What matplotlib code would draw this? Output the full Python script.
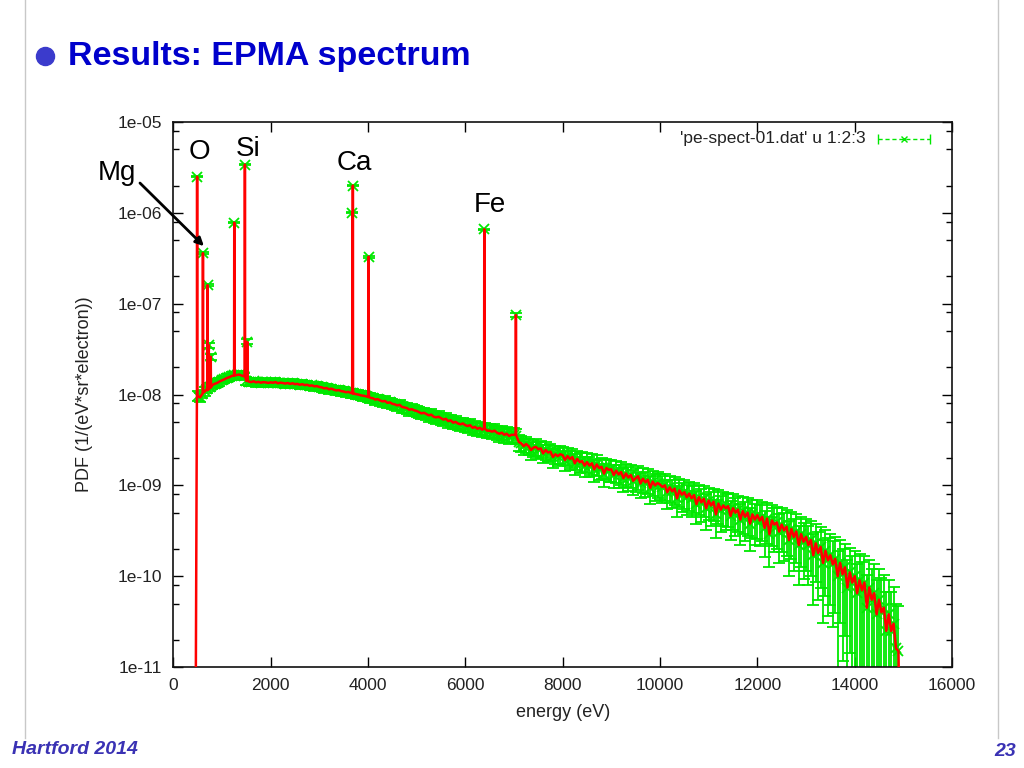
import numpy as np
import matplotlib
matplotlib.use("Agg")
import matplotlib.pyplot as plt
from matplotlib.lines import Line2D
from matplotlib.ticker import LogLocator, NullFormatter, MultipleLocator

plt.rcParams['font.family'] = ['Liberation Sans', 'DejaVu Sans']

# Continuum, units of 1e-10, 50 eV bins from 500 eV
e_start, e_step = 500, 50
continuum = [
    97, 93, 102, 108, 116, 121, 127, 131, 134, 139,
    143, 147, 152, 155, 160, 163, 164, 166, 162, 159,
    141, 139, 137, 140, 136, 138, 135, 137, 136, 134,
    136, 135, 137, 133, 135, 134, 132, 134, 131, 133,
    130, 131, 128, 130, 127, 128, 125, 126, 123, 124,
    121, 120, 117, 118, 114, 116, 113, 111, 112, 109,
    108, 106, 107, 104, 103, 101, 100, 98, 97, 96,
    94, 92, 91, 88, 89, 86, 84, 85, 81, 82,
    79, 78, 76, 77, 73, 72, 71, 68, 69, 67,
    66, 64, 62, 63, 61, 59, 60, 57, 56, 57,
    55, 53, 54, 51, 52, 49, 50, 48, 47, 48,
    46, 45, 46, 43, 44, 42, 43, 41, 42, 40,
    40, 39, 40, 38, 37, 38, 36, 37, 35, 36,
    36, 35, 30, 29, 27, 28.5, 27, 24.5, 26, 26.5,
    25, 25.5, 22.5, 24.5, 23, 23.5, 20.5, 22, 21, 22,
    21.5, 19, 21, 19.5, 20.5, 17.5, 19.5, 18, 18.5, 16.5,
    18, 16.5, 17.5, 15, 17, 15.5, 16, 13.5, 15.5, 14.8,
    15, 13, 14.5, 13.2, 14, 12, 13.5, 12.2, 13, 11.2,
    12, 12.6, 10.5, 11.8, 10.8, 11.5, 9.4, 11, 10, 10.6,
    10.2, 9.6, 10, 8.4, 9.5, 8.6, 9.2, 7.2, 8.8, 7.9,
    8.4, 7.4, 8.1, 7.2, 7.8, 6.2, 7.4, 6.5, 7.1, 5.6,
    6.8, 6.0, 6.6, 4.8, 6.3, 5.4, 6.0, 5.6, 5.9, 4.6,
    5.6, 5.0, 5.4, 4.2, 5.2, 4.5, 5.0, 3.8, 4.8, 4.2,
    4.7, 4.1, 4.5, 3.4, 4.3, 2.9, 4.1, 3.7, 3.9, 3.1,
    3.7, 3.2, 3.5, 2.5, 3.3, 2.7, 3.1, 2.2, 2.9, 2.4,
    2.7, 2.2, 2.5, 1.7, 2.3, 1.8, 2.1, 1.4, 1.9, 1.5,
    1.7, 1.35, 1.55, 1.0, 1.4, 1.05, 1.25, 0.75, 1.1, 0.85,
    1.0, 0.65, 0.9, 0.7, 0.85, 0.45, 0.75, 0.55, 0.65, 0.38,
    0.55, 0.4, 0.45, 0.25, 0.38, 0.25, 0.3, 0.16, 0.15,
]
continuum_scale = 1e-10

# Characteristic lines (single bins) and the continuum level at their foot
peak_energy = [490, 610, 705, 730, 770, 1253, 1472, 1520, 3680, 3690, 4015, 6390, 7040]
peak_value = [2.5e-6, 3.6e-7, 1.6e-7, 3.5e-8, 2.6e-8, 7.8e-7, 3.4e-6, 3.8e-8,
              1.0e-6, 2.0e-6, 3.3e-7, 6.6e-7, 7.5e-8]
peak_base = [1.0e-8, 1.05e-8, 1.12e-8, 1.15e-8, 1.2e-8, 1.62e-8, 1.58e-8, 1.42e-8,
             1.04e-8, 1.03e-8, 9.4e-9, 4.3e-9, 3.6e-9]

# empty bins at both ends of the spectrum
edge_energy = [450, 14950]
edge_value = [1e-13, 1e-13]

# relative error: ~10% at 1.35e-8, ~65% at 2e-10
rel_err_ref = 0.10
rel_val_ref = 1.35e-8
rel_err_slope = 0.45

labels = ["O", "Si", "Ca", "Fe"]
label_x = [548, 1534, 3710, 6503]
label_y = [4.7e-6, 5.0e-6, 3.5e-6, 1.22e-6]

cont_e = e_start + e_step * np.arange(len(continuum))
cont_v = np.array(continuum) * continuum_scale

# markers/error bars: continuum bins + line bins
pt_e = np.concatenate([cont_e, peak_energy])
pt_v = np.concatenate([cont_v, peak_value])
sigma = pt_v * rel_err_ref * (pt_v / rel_val_ref) ** (-rel_err_slope)
lower = np.minimum(sigma, pt_v - 1e-14)
upper = sigma

# red trace: each line rises straight from its foot
pe = np.array(peak_energy)
line_e = np.concatenate([cont_e, pe - 4, pe, pe + 4, edge_energy])
line_v = np.concatenate([cont_v, peak_base, peak_value, peak_base, edge_value])
order = np.argsort(line_e, kind="stable")
line_e = line_e[order]
line_v = line_v[order]

green = '#00e800'
red = '#ff0000'

fig = plt.figure(figsize=(10.24, 7.68), dpi=100)
ax = fig.add_axes([0.1692, 0.1315, 0.7605, 0.7096])

eb = ax.errorbar(pt_e, pt_v, yerr=[lower, upper], fmt='x', color=green,
                 ms=7, mew=1.3, elinewidth=1.3, capsize=4, capthick=1.0, zorder=2)
ax.plot(line_e, line_v, color=red, lw=1.8, zorder=3)

ax.set_yscale('log')
ax.set_xlim(0, 16000)
ax.set_ylim(1e-11, 1e-5)
ax.xaxis.set_major_locator(MultipleLocator(2000))
ax.yaxis.set_minor_locator(LogLocator(base=10, subs=[2, 5, 8], numticks=10))
ax.yaxis.set_minor_formatter(NullFormatter())
ax.set_yticks([1e-11, 1e-10, 1e-9, 1e-8, 1e-7, 1e-6, 1e-5])
ax.set_yticklabels(['1e-11', '1e-10', '1e-09', '1e-08', '1e-07', '1e-06', '1e-05'])
ax.tick_params(which='both', direction='in', top=True, right=True,
               labelsize=12.5, labelcolor='#222222', width=1)
ax.tick_params(which='major', length=7, pad=8)
ax.tick_params(which='minor', length=4)
for s in ax.spines.values():
    s.set_linewidth(1.2)
    s.set_color('#111111')

ax.set_xlabel('energy (eV)', fontsize=13, color='#222222', labelpad=8)
ax.set_ylabel('PDF (1/(eV*sr*electron))', fontsize=13, color='#222222', labelpad=18)

# gnuplot-style key
ax.text(0.8896, 0.969, "'pe-spect-01.dat' u 1:2:3", transform=ax.transAxes,
        ha='right', va='center', fontsize=12.5, color='#222222')
ax.plot([0.905, 0.972], [0.969, 0.969], transform=ax.transAxes, color=green,
        lw=1, ls=(0, (3, 2)), clip_on=False)
ax.plot([0.905, 0.972], [0.969, 0.969], transform=ax.transAxes, color=green,
        ls='none', marker='|', ms=7, mew=1, clip_on=False)
ax.plot([0.938], [0.969], transform=ax.transAxes, color=green,
        ls='none', marker='x', ms=5, mew=1, clip_on=False)

# element labels
for t, lx, ly in zip(labels, label_x, label_y):
    ax.text(lx, ly, t, fontsize=20, ha='center', va='center', color='black')
ax.text(-1156, 2.75e-6, "Mg", fontsize=20, ha='center', va='center',
        color='black', clip_on=False)
ax.annotate("", xy=(630, 4.3e-7), xytext=(-684, 2.13e-6),
            arrowprops=dict(arrowstyle='-|>', color='black', lw=2,
                            mutation_scale=12, shrinkA=0, shrinkB=0),
            annotation_clip=False)

# slide decorations
fig.add_artist(Line2D([25 / 1024, 25 / 1024], [1.0, 1 - 738 / 768],
                      color='#c8c8c8', lw=1))
fig.add_artist(Line2D([998 / 1024, 998 / 1024], [1.0, 1 - 738 / 768],
                      color='#c8c8c8', lw=1))
fig.add_artist(Line2D([45 / 1024], [1 - 56 / 768], marker='o', ms=13,
                      color='#3b3bcc', ls='none'))
fig.text(68 / 1024, 1 - 56 / 768, "Results: EPMA spectrum", fontsize=24.5,
         fontweight='bold', color='#0000cc', va='center', ha='left')
fig.text(12 / 1024, 1 - 750 / 768, "Hartford 2014", fontsize=14,
         fontweight='bold', fontstyle='italic', color='#3a32b4', va='center')
fig.text(1016 / 1024, 1 - 751 / 768, "23", fontsize=14,
         fontweight='bold', fontstyle='italic', color='#3a32b4', va='center', ha='right')

fig.savefig("out.png", dpi=100)
